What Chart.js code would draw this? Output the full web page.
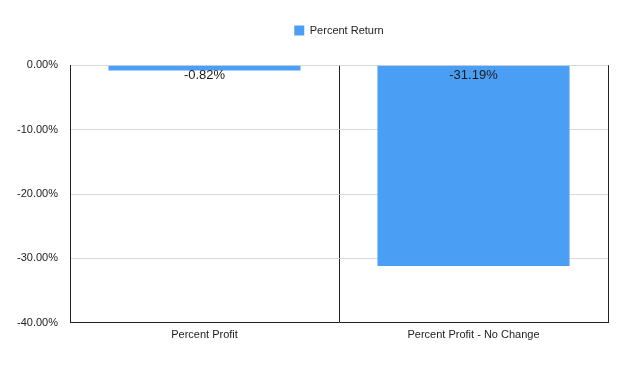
<!DOCTYPE html>
<html>
<head>
<meta charset="utf-8">
<script src="https://cdn.jsdelivr.net/npm/chart.js@4"></script>
<style>
html,body{margin:0;padding:0;background:#fff;}
#wrap{width:640px;height:379px;}
</style>
</head>
<body>
<div id="wrap"><canvas id="c" width="640" height="379"></canvas></div>
<script>
const categories = ["Percent Profit", "Percent Profit - No Change"];
const seriesName = "Percent Return";
const percentReturn = [-0.82, -31.19];
const yTicks = [0, -10, -20, -30, -40];

const labelPlugin = {
  id: 'valueLabels',
  afterDatasetsDraw(chart) {
    const ctx = chart.ctx;
    const y0 = chart.scales.y.getPixelForValue(0);
    const meta = chart.getDatasetMeta(0);
    ctx.save();
    ctx.font = '13px "Liberation Sans", Arial, sans-serif';
    ctx.fillStyle = '#1a1a1a';
    ctx.textAlign = 'center';
    ctx.textBaseline = 'middle';
    meta.data.forEach((bar, i) => {
      ctx.fillText(percentReturn[i].toFixed(2) + '%', bar.x, y0 + 10);
    });
    ctx.restore();
  }
};

new Chart(document.getElementById('c'), {
  type: 'bar',
  data: {
    labels: categories,
    datasets: [{
      label: seriesName,
      data: percentReturn,
      backgroundColor: '#4a9ff5',
      borderWidth: 0,
      categoryPercentage: 0.714,
      barPercentage: 1.0
    }]
  },
  options: {
    responsive: false,
    animation: false,
    layout: { padding: { top: 15, right: 32, bottom: 31, left: 0 } },
    plugins: {
      legend: {
        position: 'top',
        fullSize: false,
        labels: {
          boxWidth: 10, boxHeight: 10,
          color: '#222',
          padding: 10,
          font: { family: '"Liberation Sans", Arial, sans-serif', size: 11 }
        }
      },
      subtitle: {
        display: true,
        text: ' ',
        position: 'top',
        weight: 500,
        fullSize: false,
        font: { size: 1 },
        padding: { top: 9, bottom: 9 }
      },
      tooltip: { enabled: false }
    },
    scales: {
      x: {
        grid: { color: '#222', lineWidth: 1, drawTicks: false, offset: true },
        border: { color: '#222', width: 1 },
        ticks: {
          color: '#222', padding: 6,
          font: { family: '"Liberation Sans", Arial, sans-serif', size: 11 }
        }
      },
      y: {
        min: -40, max: 0,
        afterFit(scale) { scale.width = 70; },
        afterBuildTicks(scale) { scale.ticks = yTicks.map(v => ({ value: v })); },
        grid: { color: '#d9d9d9', lineWidth: 1, drawTicks: false },
        border: { color: '#222', width: 1 },
        ticks: {
          color: '#222', padding: 12,
          font: { family: '"Liberation Sans", Arial, sans-serif', size: 11 },
          callback: v => Number(v).toFixed(2) + '%'
        }
      }
    }
  },
  plugins: [labelPlugin]
});
</script>
</body>
</html>
